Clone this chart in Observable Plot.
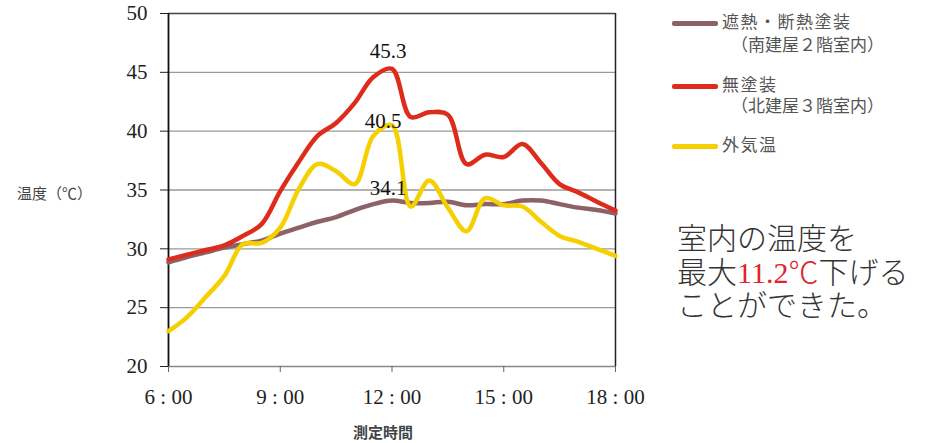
<!DOCTYPE html>
<html>
<head>
<meta charset="utf-8">
<script src="https://cdn.jsdelivr.net/npm/d3@7"></script>
<script src="https://cdn.jsdelivr.net/npm/@observablehq/plot@0.6"></script>
<style>
  html, body { margin: 0; padding: 0; background: #fff; }
  #wrap { position: relative; width: 949px; height: 443px; background: #fff; overflow: hidden; }
  #wrap svg { position: absolute; left: 0; top: 0; }
  .ov { position: absolute; white-space: nowrap; font-family: "Liberation Sans", "Noto Sans CJK JP", sans-serif; line-height: 1; }
  .leg { font-size: 17px; color: #555; }
  .sw { position: absolute; width: 46px; height: 5px; border-radius: 2px; }
  .note { font-family: "Liberation Serif", "Noto Sans CJK JP", serif; font-size: 30px; color: #333; font-weight: 300; }
  .red { color: #e0242c; }
</style>
</head>
<body>
<div id="wrap"></div>
<script>
// time of day (hours)
const times = [6, 6.5, 7, 7.5, 8, 8.5, 9, 9.5, 10, 10.5, 11, 11.5, 12, 12.5, 13, 13.5, 14, 14.5, 15, 15.5, 16, 16.5, 17, 17.5, 18];
// 遮熱・断熱塗装（南建屋２階室内）
const coated = [28.85, 29.3, 29.7, 30.1, 30.4, 30.7, 31.3, 31.8, 32.3, 32.7, 33.3, 33.8, 34.1, 33.9, 33.9, 34.0, 33.7, 33.8, 33.8, 34.1, 34.1, 33.8, 33.5, 33.3, 33.0];
// 無塗装（北建屋３階室内）
const uncoated = [29.1, 29.5, 29.9, 30.3, 31.1, 32.1, 34.9, 37.4, 39.6, 40.7, 42.4, 44.6, 45.3, 41.2, 41.6, 41.4, 37.2, 38.0, 37.8, 38.9, 37.3, 35.5, 34.8, 34.0, 33.25];
// 外気温
const outdoor = [23.0, 24.2, 25.9, 27.7, 30.4, 30.5, 31.8, 35.1, 37.2, 36.6, 35.5, 39.6, 40.5, 33.6, 35.8, 33.5, 31.5, 34.3, 33.7, 33.6, 32.3, 31.1, 30.6, 30.0, 29.4];

const seriesNames = ["遮熱・断熱塗装", "無塗装", "外気温"];
const seriesSub = ["（南建屋２階室内）", "（北建屋３階室内）", ""];
const seriesColors = ["#8c6167", "#dd2c1c", "#f5cf00"];

const xTicks = [6, 9, 12, 15, 18];
const xTickLabels = ["6\u2005:\u200500", "9\u2005:\u200500", "12\u2005:\u200500", "15\u2005:\u200500", "18\u2005:\u200500"];
const yTicks = [20, 25, 30, 35, 40, 45, 50];
const gridValues = [25, 30, 35, 40, 45];

const labelTimes = [12, 12, 12];
const labelValues = [45.3, 40.5, 34.1];
const labelTexts = ["45.3", "40.5", "34.1"];

const yTitle = "温度（℃）";
const xTitle = "測定時間";
const noteLines = ["室内の温度を", "最大", "11.2℃", "下げる", "ことができた。"];

const rows = [];
const allSeries = [coated, uncoated, outdoor];
allSeries.forEach((vals, s) => vals.forEach((v, i) => rows.push({t: times[i], v, s: seriesNames[s]})));

const labels = labelTimes.map((t, i) => ({t, v: labelValues[i], text: labelTexts[i]}));

const chart = Plot.plot({
  width: 949,
  height: 443,
  marginLeft: 168,
  marginRight: 334,
  marginTop: 13,
  marginBottom: 77,
  style: {fontFamily: "Liberation Serif, serif", fontSize: "21px", color: "#222", background: "transparent"},
  x: {domain: [6, 18]},
  y: {domain: [20, 50]},
  marks: [
    Plot.ruleY(gridValues, {stroke: "#9a9a9a", strokeWidth: 1.3}),
    Plot.ruleY([20], {stroke: "#888", strokeWidth: 1.5}),
    Plot.ruleY([50], {stroke: "#444", strokeWidth: 1.3}),
    Plot.ruleX([18], {stroke: "#222", strokeWidth: 1.5}),
    Plot.ruleX([6], {stroke: "#111", strokeWidth: 1.8}),
    Plot.axisY({ticks: yTicks, tickSize: 8, tickPadding: 13, label: null, fontSize: 21, stroke: "#222"}),
    Plot.axisX({ticks: xTicks, tickSize: 6, tickPadding: 17, label: null, fontSize: 21, stroke: "#666",
      tickFormat: d => xTickLabels[xTicks.indexOf(d)]}),
    Plot.line(rows.filter(d => d.s === seriesNames[0]), {x: "t", y: "v", stroke: seriesColors[0], strokeWidth: 4.5, curve: "catmull-rom"}),
    Plot.line(rows.filter(d => d.s === seriesNames[1]), {x: "t", y: "v", stroke: seriesColors[1], strokeWidth: 4.5, curve: "catmull-rom"}),
    Plot.line(rows.filter(d => d.s === seriesNames[2]), {x: "t", y: "v", stroke: seriesColors[2], strokeWidth: 4.5, curve: "catmull-rom"}),
    Plot.text([labels[0]], {x: "t", y: "v", text: "text", dx: -4, dy: -18, fontSize: 21, fill: "#111"}),
    Plot.text([labels[1]], {x: "t", y: "v", text: "text", dx: -9, dy: -4, fontSize: 21, fill: "#111"}),
    Plot.text([labels[2]], {x: "t", y: "v", text: "text", dx: -4, dy: -12, fontSize: 21, fill: "#111"})
  ]
});

const wrap = document.getElementById("wrap");
wrap.appendChild(chart);

function addDiv(cls, html, left, top) {
  const d = document.createElement("div");
  d.className = "ov " + cls;
  d.innerHTML = html;
  d.style.left = left + "px";
  d.style.top = top + "px";
  wrap.appendChild(d);
  return d;
}

// axis titles
addDiv("", yTitle, 17, 186).style.cssText += "font-size:15px;color:#444;";
const xt = addDiv("", xTitle, 353, 425);
xt.style.cssText += "font-size:15px;color:#444;font-weight:bold;";

// legend
const legY = [23, 86, 146];
const subY = [46, 107];
seriesNames.forEach((name, i) => {
  const sw = document.createElement("div");
  sw.className = "sw";
  sw.style.left = "672px";
  sw.style.top = (legY[i] - 2.5) + "px";
  sw.style.background = seriesColors[i];
  wrap.appendChild(sw);
  addDiv("leg", name, 722, legY[i] - 9).style.letterSpacing = "1.5px";
  if (seriesSub[i]) addDiv("leg", seriesSub[i], 731, subY[i] - 9);
});

// note
addDiv("note", noteLines[0], 677, 224);
addDiv("note", noteLines[1] + '<span class="red">' + noteLines[2] + '</span>' + noteLines[3], 677, 257.5);
addDiv("note", noteLines[4], 677, 291);
</script>
</body>
</html>
